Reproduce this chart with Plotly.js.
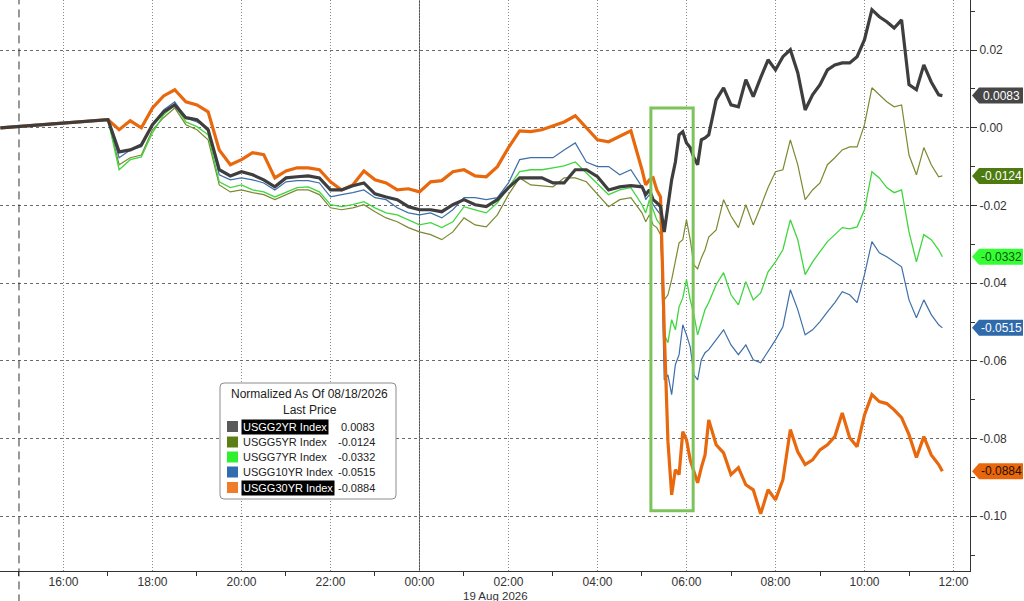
<!DOCTYPE html>
<html><head><meta charset="utf-8">
<script src="https://cdn.plot.ly/plotly-3.0.1.min.js"></script>
<style>html,body{margin:0;padding:0;background:#fff;overflow:hidden}#chart{width:1024px;height:601px}</style>
</head><body><div id="chart"></div>
<script>
const times = [
"2026-08-18 14:35",
"2026-08-18 17:00","2026-08-18 17:15","2026-08-18 17:30","2026-08-18 17:45",
"2026-08-18 18:00","2026-08-18 18:15","2026-08-18 18:30","2026-08-18 18:45",
"2026-08-18 19:00","2026-08-18 19:15","2026-08-18 19:30","2026-08-18 19:45",
"2026-08-18 20:00","2026-08-18 20:15","2026-08-18 20:30","2026-08-18 20:45",
"2026-08-18 21:00","2026-08-18 21:15","2026-08-18 21:30","2026-08-18 21:45",
"2026-08-18 22:00","2026-08-18 22:15","2026-08-18 22:30","2026-08-18 22:45",
"2026-08-18 23:00","2026-08-18 23:15","2026-08-18 23:30","2026-08-18 23:45",
"2026-08-19 00:00","2026-08-19 00:15","2026-08-19 00:30","2026-08-19 00:45",
"2026-08-19 01:00","2026-08-19 01:15","2026-08-19 01:30","2026-08-19 01:45",
"2026-08-19 02:00","2026-08-19 02:15","2026-08-19 02:30","2026-08-19 02:45",
"2026-08-19 03:00","2026-08-19 03:15","2026-08-19 03:30","2026-08-19 03:45",
"2026-08-19 04:00","2026-08-19 04:15","2026-08-19 04:30","2026-08-19 04:45",
"2026-08-19 05:00",
"2026-08-19 05:05","2026-08-19 05:10","2026-08-19 05:15","2026-08-19 05:20","2026-08-19 05:25","2026-08-19 05:30",
"2026-08-19 05:35","2026-08-19 05:40","2026-08-19 05:45","2026-08-19 05:50","2026-08-19 05:55","2026-08-19 06:00",
"2026-08-19 06:05","2026-08-19 06:10","2026-08-19 06:15","2026-08-19 06:20","2026-08-19 06:25","2026-08-19 06:30",
"2026-08-19 06:40","2026-08-19 06:50",
"2026-08-19 07:00","2026-08-19 07:10","2026-08-19 07:20","2026-08-19 07:30","2026-08-19 07:40","2026-08-19 07:50",
"2026-08-19 08:00","2026-08-19 08:10","2026-08-19 08:20","2026-08-19 08:30","2026-08-19 08:40","2026-08-19 08:50",
"2026-08-19 09:00","2026-08-19 09:10","2026-08-19 09:20","2026-08-19 09:30","2026-08-19 09:40","2026-08-19 09:50",
"2026-08-19 10:00","2026-08-19 10:10","2026-08-19 10:20","2026-08-19 10:30","2026-08-19 10:40","2026-08-19 10:50",
"2026-08-19 11:00","2026-08-19 11:10","2026-08-19 11:20","2026-08-19 11:30","2026-08-19 11:40",
"2026-08-19 11:45"
];

const usgg2yr = [
0.0000,
0.0021,-0.0062,-0.0057,-0.0044,
0.0008,0.0041,0.0059,0.0026,
0.0021,-0.0005,-0.0108,-0.0124,
-0.0113,-0.0121,-0.0134,-0.0152,
-0.0129,-0.0126,-0.0124,-0.0129,
-0.0160,-0.0160,-0.0149,-0.0142,
-0.0170,-0.0178,-0.0185,-0.0203,
-0.0211,-0.0211,-0.0216,-0.0198,
-0.0185,-0.0198,-0.0203,-0.0185,
-0.0154,-0.0129,-0.0129,-0.0129,
-0.0142,-0.0142,-0.0108,-0.0108,
-0.0126,-0.0160,-0.0152,-0.0149,
-0.0152,
-0.0172,-0.0160,-0.0185,-0.0193,-0.0203,-0.0268,
-0.0198,-0.0134,-0.0088,-0.0018,-0.0010,-0.0039,
-0.0051,-0.0077,-0.0095,-0.0031,-0.0026,-0.0018,
0.0072,0.0103,
0.0059,0.0054,0.0124,0.0080,0.0129,0.0175,
0.0149,0.0183,0.0201,0.0142,0.0046,0.0085,
0.0111,0.0149,0.0162,0.0167,0.0167,0.0183,
0.0227,0.0304,0.0286,0.0273,0.0257,0.0278,
0.0111,0.0098,0.0162,0.0118,0.0085,
0.0083
];

const usgg5yr = [
0.0000,
0.0021,-0.0095,-0.0077,-0.0070,
-0.0005,0.0026,0.0051,0.0008,
-0.0005,-0.0031,-0.0147,-0.0165,
-0.0160,-0.0167,-0.0172,-0.0185,
-0.0172,-0.0160,-0.0160,-0.0172,
-0.0206,-0.0211,-0.0206,-0.0198,
-0.0216,-0.0232,-0.0242,-0.0257,
-0.0268,-0.0275,-0.0288,-0.0268,
-0.0232,-0.0250,-0.0255,-0.0224,
-0.0172,-0.0129,-0.0147,-0.0149,
-0.0152,-0.0129,-0.0129,-0.0139,
-0.0172,-0.0203,-0.0185,-0.0180,
-0.0219,
-0.0242,-0.0224,-0.0250,-0.0257,-0.0275,-0.0443,
-0.0430,-0.0391,-0.0340,-0.0296,-0.0288,-0.0237,
-0.0288,-0.0353,-0.0363,-0.0335,-0.0314,-0.0281,
-0.0263,-0.0185,
-0.0227,-0.0257,-0.0198,-0.0250,-0.0203,-0.0154,
-0.0113,-0.0108,-0.0031,-0.0095,-0.0185,-0.0160,
-0.0142,-0.0095,-0.0077,-0.0057,-0.0049,-0.0049,
0.0008,0.0103,0.0085,0.0067,0.0054,0.0059,
-0.0070,-0.0121,-0.0051,-0.0095,-0.0126,
-0.0124
];

const usgg7yr = [
0.0000,
0.0021,-0.0108,-0.0082,-0.0075,
-0.0013,0.0033,0.0059,0.0015,
0.0003,-0.0018,-0.0139,-0.0154,
-0.0147,-0.0160,-0.0165,-0.0178,
-0.0167,-0.0154,-0.0152,-0.0165,
-0.0198,-0.0203,-0.0198,-0.0190,
-0.0206,-0.0219,-0.0224,-0.0237,
-0.0250,-0.0244,-0.0257,-0.0242,
-0.0203,-0.0211,-0.0219,-0.0193,
-0.0154,-0.0113,-0.0108,-0.0108,
-0.0103,-0.0098,-0.0088,-0.0116,
-0.0142,-0.0172,-0.0160,-0.0154,
-0.0198,
-0.0219,-0.0185,-0.0211,-0.0237,-0.0250,-0.0533,
-0.0553,-0.0494,-0.0520,-0.0461,-0.0438,-0.0391,
-0.0443,-0.0481,-0.0533,-0.0499,-0.0468,-0.0450,
-0.0404,-0.0373,
-0.0430,-0.0456,-0.0396,-0.0443,-0.0425,-0.0371,
-0.0345,-0.0314,-0.0237,-0.0288,-0.0378,-0.0345,
-0.0319,-0.0293,-0.0275,-0.0257,-0.0260,-0.0255,
-0.0211,-0.0113,-0.0129,-0.0154,-0.0167,-0.0160,
-0.0268,-0.0345,-0.0275,-0.0288,-0.0314,
-0.0332
];

const usgg10yr = [
0.0000,
0.0021,-0.0077,-0.0057,-0.0049,
0.0008,0.0046,0.0067,0.0026,
0.0015,0.0000,-0.0121,-0.0134,
-0.0129,-0.0134,-0.0142,-0.0160,
-0.0139,-0.0136,-0.0136,-0.0142,
-0.0178,-0.0172,-0.0167,-0.0160,
-0.0180,-0.0185,-0.0206,-0.0219,
-0.0224,-0.0219,-0.0232,-0.0211,
-0.0180,-0.0180,-0.0185,-0.0180,
-0.0142,-0.0082,-0.0077,-0.0077,
-0.0077,-0.0057,-0.0039,-0.0088,
-0.0100,-0.0100,-0.0121,-0.0108,
-0.0152,
-0.0185,-0.0172,-0.0198,-0.0211,-0.0224,-0.0649,
-0.0636,-0.0687,-0.0610,-0.0584,-0.0507,-0.0533,
-0.0564,-0.0636,-0.0649,-0.0597,-0.0579,-0.0571,
-0.0546,-0.0520,
-0.0559,-0.0584,-0.0559,-0.0597,-0.0605,-0.0577,
-0.0546,-0.0512,-0.0417,-0.0468,-0.0533,-0.0520,
-0.0499,-0.0474,-0.0450,-0.0422,-0.0430,-0.0450,
-0.0378,-0.0293,-0.0322,-0.0332,-0.0345,-0.0358,
-0.0443,-0.0489,-0.0443,-0.0481,-0.0507,
-0.0515
];

const usgg30yr = [
0.0000,
0.0021,-0.0005,0.0018,0.0000,
0.0051,0.0082,0.0098,0.0067,
0.0059,0.0041,-0.0057,-0.0095,
-0.0082,-0.0064,-0.0069,-0.0129,
-0.0111,-0.0103,-0.0103,-0.0108,
-0.0139,-0.0160,-0.0147,-0.0111,
-0.0134,-0.0142,-0.0160,-0.0157,
-0.0165,-0.0139,-0.0136,-0.0113,
-0.0108,-0.0124,-0.0126,-0.0100,
-0.0051,-0.0008,-0.0010,-0.0005,
0.0005,0.0015,0.0031,0.0000,
-0.0031,-0.0036,-0.0023,-0.0008,
-0.0108,
-0.0147,-0.0134,-0.0129,-0.0160,-0.0178,-0.0520,
-0.0808,-0.0945,-0.0880,-0.0893,-0.0782,-0.0803,
-0.0855,-0.0885,-0.0914,-0.0875,-0.0842,-0.0752,
-0.0816,-0.0837,
-0.0893,-0.0875,-0.0919,-0.0932,-0.0994,-0.0932,
-0.0958,-0.0906,-0.0777,-0.0834,-0.0867,-0.0855,
-0.0829,-0.0816,-0.0795,-0.0734,-0.0798,-0.0821,
-0.0739,-0.0687,-0.0705,-0.0710,-0.0726,-0.0746,
-0.0790,-0.0849,-0.0795,-0.0842,-0.0867,
-0.0884
];

const seriesNames = ["USGG2YR Index","USGG5YR Index","USGG7YR Index","USGG10YR Index","USGG30YR Index"];
const yTickVals = [0.02, 0.00, -0.02, -0.04, -0.06, -0.08, -0.10];
const yTickText = ["0.02","0.00","-0.02","-0.04","-0.06","-0.08","-0.10"];
const legendTitle = "Normalized As Of 08/18/2026";
const legendSubtitle = "Last Price";
const dateLabel = "19 Aug 2026";

// ---- styling / layout ----
const allSeries = [usgg2yr, usgg5yr, usgg7yr, usgg10yr, usgg30yr];
const lineColors = ["#3e3e3e", "#7a8a30", "#3fd63f", "#3e6fa8", "#e8680e"];
const lineWidths = [3.2, 1.2, 1.3, 1.2, 3.2];
const swatchColors = ["#5a5a5a", "#5b7f16", "#30ee30", "#2f6db0", "#f07c2a"];
const tagBg = ["#474747", "#4d7b10", "#33ff33", "#2f6aab", "#e8660c"];
const tagFg = ["#ffffff", "#ffffff", "#145214", "#ffffff", "#2a1000"];
const highlight = [true, false, false, false, true];
const drawOrder = [1, 2, 3, 4, 0];

const W = 1024, H = 601;
const M = {l: 0, r: 54, t: 0, b: 30};
const plotW = W - M.l - M.r, plotH = H - M.t - M.b;
const YMIN = -0.1141, YMAX = 0.0329;
const px = x => (x - M.l) / plotW;
const py = y => (H - M.b - y) / plotH;
const vy = v => (v - YMIN) / (YMAX - YMIN);
const FONT = "Liberation Sans, Arial, sans-serif";

const traces = drawOrder.map(i => ({
  type: "scatter", mode: "lines", x: times, y: allSeries[i], name: seriesNames[i],
  line: {color: lineColors[i], width: lineWidths[i]}, hoverinfo: "skip", showlegend: false
}));

const shapes = [];
const annotations = [];

// session start dashed line and day separator
shapes.push({type: "line", xref: "x", yref: "paper", x0: "2026-08-18 15:00", x1: "2026-08-18 15:00",
  y0: -0.055, y1: 1, line: {color: "#333", width: 1, dash: "8px,5px"}, layer: "above"});
shapes.push({type: "line", xref: "x", yref: "paper", x0: "2026-08-19 00:00", x1: "2026-08-19 00:00",
  y0: 0, y1: 1, line: {color: "#555", width: 1}, layer: "below"});

// highlight box around the drop
shapes.push({type: "rect", xref: "x", yref: "y", x0: "2026-08-19 05:12", x1: "2026-08-19 06:09",
  y0: -0.0986, y1: 0.0051, line: {color: "#7cc35c", width: 3}, fillcolor: "rgba(0,0,0,0)", layer: "above"});

// right-side value tags
allSeries.forEach((s, i) => {
  const v = s[s.length - 1];
  const yc = vy(v), h = 8 / plotH;
  const x0 = px(972), x1 = px(979), x2 = px(1023);
  shapes.push({type: "path", xref: "paper", yref: "paper",
    path: `M ${x0},${yc} L ${x1},${yc + h} L ${x2},${yc + h} L ${x2},${yc - h} L ${x1},${yc - h} Z`,
    fillcolor: tagBg[i], line: {width: 0}, layer: "above"});
  annotations.push({xref: "paper", yref: "paper", x: px(1001), y: yc, xanchor: "center", yanchor: "middle",
    text: v.toFixed(4), showarrow: false, font: {family: FONT, size: 12, color: tagFg[i]}});
});

// custom legend box
const bx0 = 220, bx1 = 396, by0 = 383, by1 = 499, r = 4;
shapes.push({type: "path", xref: "paper", yref: "paper",
  path: `M ${px(bx0 + r)},${py(by0)} L ${px(bx1 - r)},${py(by0)} Q ${px(bx1)},${py(by0)} ${px(bx1)},${py(by0 + r)} ` +
        `L ${px(bx1)},${py(by1 - r)} Q ${px(bx1)},${py(by1)} ${px(bx1 - r)},${py(by1)} ` +
        `L ${px(bx0 + r)},${py(by1)} Q ${px(bx0)},${py(by1)} ${px(bx0)},${py(by1 - r)} ` +
        `L ${px(bx0)},${py(by0 + r)} Q ${px(bx0)},${py(by0)} ${px(bx0 + r)},${py(by0)} Z`,
  fillcolor: "#ffffff", line: {color: "#8c8c8c", width: 1}, layer: "above"});
annotations.push({xref: "paper", yref: "paper", x: px(309), y: py(394), xanchor: "center", yanchor: "middle",
  text: legendTitle, showarrow: false, font: {family: FONT, size: 12, color: "#222"}});
annotations.push({xref: "paper", yref: "paper", x: px(310), y: py(410), xanchor: "center", yanchor: "middle",
  text: legendSubtitle, showarrow: false, font: {family: FONT, size: 12, color: "#222"}});
const rowY = [426.5, 442, 457, 472, 487.5];
seriesNames.forEach((n, i) => {
  const yy = rowY[i];
  shapes.push({type: "rect", xref: "paper", yref: "paper", x0: px(227), x1: px(238), y0: py(yy + 5.5), y1: py(yy - 5.5),
    fillcolor: swatchColors[i], line: {width: 0}, layer: "above"});
  annotations.push({xref: "paper", yref: "paper", x: px(241), y: py(yy), xanchor: "left", yanchor: "middle",
    text: n, showarrow: false, bgcolor: highlight[i] ? "#000000" : "rgba(0,0,0,0)", borderpad: 1,
    font: {family: FONT, size: 11, color: highlight[i] ? "#ffffff" : "#222"}});
  const s = allSeries[i];
  annotations.push({xref: "paper", yref: "paper", x: px(377), y: py(yy), xanchor: "right", yanchor: "middle",
    text: s[s.length - 1].toFixed(4), showarrow: false, font: {family: FONT, size: 11, color: "#222"}});
});

// date label under the axis
annotations.push({xref: "x", yref: "paper", x: "2026-08-19 01:43", y: py(595.5), xanchor: "center", yanchor: "middle",
  text: dateLabel, showarrow: false, font: {family: FONT, size: 11.5, color: "#333"}});

const layout = {
  width: W, height: H, margin: M, paper_bgcolor: "#fff", plot_bgcolor: "#fff",
  showlegend: false, hovermode: false,
  font: {family: FONT, size: 12, color: "#333"},
  xaxis: {
    type: "date", range: ["2026-08-18 14:34:24", "2026-08-19 12:22:15"],
    tickformat: "%H:%M", dtick: 7200000, tick0: "2026-08-18 00:00",
    showgrid: true, gridcolor: "#8a8a8a", griddash: "1px,2px", gridwidth: 1,
    showline: true, linecolor: "#333", linewidth: 1, zeroline: false,
    ticks: "", ticklabelstandoff: 0,
    minor: {dtick: 3600000, tick0: "2026-08-18 01:00", ticks: "outside", ticklen: 4, tickcolor: "#333", showgrid: false},
    tickfont: {family: FONT, size: 12, color: "#333"}, automargin: false, fixedrange: true
  },
  yaxis: {
    side: "right", range: [YMIN, YMAX], tickmode: "array", tickvals: yTickVals, ticktext: yTickText,
    showgrid: true, gridcolor: "#6a6a6a", griddash: "3px,3px", gridwidth: 1,
    zeroline: false, showline: true, linecolor: "#333", linewidth: 1,
    ticks: "outside", ticklen: 6, tickcolor: "#333",
    minor: {dtick: 0.01, tick0: 0, ticks: "outside", ticklen: 4, tickcolor: "#333", showgrid: false},
    tickfont: {family: FONT, size: 12, color: "#333"}, automargin: false, fixedrange: true
  },
  shapes: shapes, annotations: annotations
};

Plotly.newPlot("chart", traces, layout, {staticPlot: true, displayModeBar: false});
</script>
</body></html>
